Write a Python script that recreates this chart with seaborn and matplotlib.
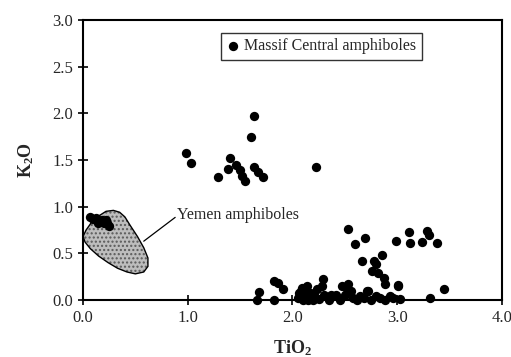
import matplotlib
matplotlib.use("Agg")
import matplotlib.pyplot as plt
import seaborn as sns
import pandas as pd
from matplotlib.patches import Polygon

# Massif Central amphiboles (TiO2, K2O)
mc_tio2 = [0.98, 1.03, 1.29, 1.40, 1.38, 1.46, 1.50, 1.52, 1.55, 1.60, 1.635, 1.63, 1.67, 1.72, 2.22,
           2.53, 2.60, 2.69, 2.66, 2.78, 2.80, 2.85, 2.76, 2.82, 2.87, 2.88, 3.01, 2.99, 3.11, 3.12,
           3.24, 3.28, 3.30, 3.38, 3.45, 3.31,
           1.66, 1.68, 1.82, 1.86, 1.91, 1.82, 2.05, 2.08, 2.09, 2.12, 2.13, 2.15, 2.17, 2.19, 2.21,
           2.23, 2.25, 2.28, 2.29, 2.30, 2.37, 2.39, 2.42, 2.45, 2.47, 2.50, 2.53, 2.52, 2.56, 2.58,
           2.62, 2.64, 2.68, 2.71, 2.72, 2.75, 2.80, 2.84, 2.88, 2.93, 2.96, 3.01, 3.03, 2.10, 2.20,
           2.35, 2.14, 2.06]
mc_k2o = [1.57, 1.47, 1.32, 1.52, 1.40, 1.45, 1.39, 1.33, 1.28, 1.75, 1.97, 1.42, 1.37, 1.32, 1.42,
          0.76, 0.60, 0.66, 0.42, 0.42, 0.39, 0.48, 0.31, 0.29, 0.24, 0.17, 0.16, 0.63, 0.73, 0.61,
          0.62, 0.74, 0.70, 0.61, 0.12, 0.02,
          0.00, 0.09, 0.20, 0.18, 0.12, 0.00, 0.02, 0.10, 0.13, 0.05, 0.10, 0.00, 0.07, 0.03, 0.08,
          0.12, 0.01, 0.15, 0.23, 0.05, 0.05, 0.04, 0.05, 0.00, 0.15, 0.05, 0.17, 0.12, 0.10, 0.02,
          0.00, 0.04, 0.02, 0.10, 0.10, 0.00, 0.04, 0.02, 0.00, 0.04, 0.02, 0.15, 0.01, 0.00, 0.00,
          0.00, 0.15, 0.07]

# Yemen amphiboles plotted as dots
ye_tio2 = [0.07, 0.10, 0.12, 0.15, 0.18, 0.20, 0.23, 0.25, 0.14, 0.22]
ye_k2o = [0.89, 0.87, 0.88, 0.85, 0.86, 0.83, 0.82, 0.79, 0.82, 0.86]

# Yemen amphibole field outline
field_tio2 = [0.00, 0.03, 0.08, 0.15, 0.22, 0.29, 0.35, 0.40, 0.45, 0.52, 0.58, 0.62, 0.62,
              0.58, 0.50, 0.42, 0.33, 0.24, 0.15, 0.07, 0.02]
field_k2o = [0.68, 0.75, 0.83, 0.90, 0.95, 0.96, 0.94, 0.89, 0.80, 0.68, 0.56, 0.45, 0.36,
             0.30, 0.28, 0.30, 0.34, 0.40, 0.47, 0.55, 0.62]

xticks = [0, 1, 2, 3, 4]
xticklabels = ["0.0", "1.0", "2.0", "3.0", "4.0"]
yticks = [0, 0.5, 1.0, 1.5, 2.0, 2.5, 3.0]
yticklabels = ["0.0", "0.5", "1.0", "1.5", "2.0", "2.5", "3.0"]

sns.set_style("ticks")
plt.rcParams["font.family"] = ["Liberation Serif", "DejaVu Serif"]
plt.rcParams["mathtext.fontset"] = "custom"
plt.rcParams["mathtext.rm"] = "Liberation Serif"
plt.rcParams["mathtext.bf"] = "Liberation Serif:bold"

fig = plt.figure(figsize=(5.11, 3.57), dpi=100)
ax = fig.add_axes([0.1624, 0.1597, 0.82, 0.7843])

# stippled grey field with black outline
pts = list(zip(field_tio2, field_k2o))
ax.add_patch(Polygon(pts, closed=True, facecolor="#bdbdbd", edgecolor="#5a5a5a",
                     linewidth=0, hatch="....", zorder=2))
ax.add_patch(Polygon(pts, closed=True, facecolor="none", edgecolor="black",
                     linewidth=1.0, zorder=2.5))

mc = pd.DataFrame({"TiO2": mc_tio2, "K2O": mc_k2o})
sns.scatterplot(data=mc, x="TiO2", y="K2O", ax=ax, color="black", s=45, edgecolor="black",
                linewidth=0, label="Massif Central amphiboles", clip_on=False, zorder=4)
ye = pd.DataFrame({"TiO2": ye_tio2, "K2O": ye_k2o})
sns.scatterplot(data=ye, x="TiO2", y="K2O", ax=ax, color="black", s=45, edgecolor="black",
                linewidth=0, legend=False, clip_on=False, zorder=4)

ax.plot([0.58, 0.88], [0.63, 0.885], color="black", linewidth=0.9, zorder=3)
ax.text(0.90, 0.915, "Yemen amphiboles", fontsize=11.5, va="center", ha="left")

ax.set_xlim(0, 4)
ax.set_ylim(0, 3)
ax.set_xticks(xticks)
ax.set_xticklabels(xticklabels)
ax.set_yticks(yticks)
ax.set_yticklabels(yticklabels)
ax.tick_params(direction="inout", length=7, width=1.2, labelsize=12, color="black")
for sp in ax.spines.values():
    sp.set_linewidth(1.5)
    sp.set_color("black")

ax.set_xlabel(r"$\mathbf{TiO_2}$", fontsize=13, labelpad=9)
ax.set_ylabel(r"$\mathbf{K_2O}$", fontsize=13, labelpad=12)

leg = ax.legend(loc="upper left", bbox_to_anchor=(0.33, 0.955), frameon=True, fancybox=False,
                fontsize=11.5, handletextpad=0.3, borderpad=0.35, handlelength=0.8,
                borderaxespad=0)
leg.get_frame().set_edgecolor("black")
leg.get_frame().set_linewidth(1.0)

fig.savefig("out.png", dpi=100)
